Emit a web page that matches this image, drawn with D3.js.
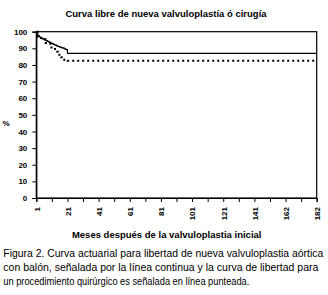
<!DOCTYPE html>
<html lang="es">
<head>
    <meta charset="UTF-8">
    <title></title>
    <style type="text/css">
        html, body { padding:0; margin:0; background:#fff; }
        text { font-family: "Liberation Sans", Arial, sans-serif; }
    </style>
</head>
<body>
<script src="https://d3js.org/d3.v7.min.js"></script>
<script type="text/javascript">
    // categoria (mes) -> indice; etiquetas cada 20 categorias
    var tickLabels = ['1', '21', '41', '61', '81', '101', '121', '141', '162', '182'];
    var yTicks = [0, 10, 20, 30, 40, 50, 60, 70, 80, 90, 100];

    // curva actuarial, valvuloplastia (linea continua)
    var balonIdx = [0, 1, 2, 3, 4, 5, 6, 7, 8, 9, 10, 11, 12, 13, 14, 15, 16, 17, 18, 19, 20, 180];
    var balonVal = [100, 97.5, 96.8, 96.2, 95.7, 95.2, 94.7, 94.2, 93.7, 93.2, 92.8, 92.3, 91.9, 91.5, 91.1, 90.7, 90.4, 90.1, 89.7, 89.2, 87, 87];

    // curva de procedimiento quirurgico (linea punteada)
    var cirugiaIdx = [0, 1, 3, 6, 9, 12, 14, 16, 18, 20, 180];
    var cirugiaVal = [100, 97, 95.5, 93.2, 90.5, 88, 86.2, 84.6, 83, 82.5, 82.5];

    var width = 328,
        height = 295,
        plotLeft = 36.3, plotRight = 316.7,
        plotTop = 31.7, plotBottom = 198;

    var svg = d3.select('body').append('svg')
        .attr('width', width)
        .attr('height', height);

    var xScale = d3.scaleLinear().domain([0, 180]).range([plotLeft, plotRight]);
    var yScale = d3.scaleLinear().domain([0, 100]).range([plotBottom, plotTop]);

    // titulo
    svg.append('text')
        .attr('x', 166).attr('y', 17)
        .attr('text-anchor', 'middle')
        .attr('font-size', '9.5px').attr('font-weight', 'bold')
        .text('Curva libre de nueva valvuloplastía ó cirugía');

    // marco
    svg.append('rect')
        .attr('x', plotLeft).attr('y', plotTop)
        .attr('width', plotRight - plotLeft).attr('height', plotBottom - plotTop)
        .attr('fill', 'none').attr('stroke', '#000').attr('stroke-width', 1.2);

    var yAxis = d3.axisLeft(yScale).tickValues(yTicks).tickSize(4).tickPadding(5);
    var gy = svg.append('g')
        .attr('transform', 'translate(' + plotLeft + ',0)')
        .call(yAxis);

    var xAxis = d3.axisBottom(xScale)
        .tickValues(d3.range(0, 181, 10))
        .tickSize(4)
        .tickFormat(function(d) { return d % 20 === 0 ? tickLabels[d / 20] : ''; });
    var gx = svg.append('g')
        .attr('transform', 'translate(0,' + plotBottom + ')')
        .call(xAxis);
    gx.selectAll('.tick text')
        .attr('transform', 'rotate(-90)')
        .attr('text-anchor', 'end')
        .attr('x', -9).attr('y', 0).attr('dy', '0.35em');

    [gx, gy].forEach(function(g) {
        g.selectAll('.domain').attr('stroke', '#000').attr('stroke-width', 1.2);
        g.selectAll('.tick line').attr('stroke', '#000');
        g.selectAll('.tick text')
            .attr('fill', '#000')
            .attr('font-size', '8px').attr('font-weight', 'bold')
            .attr('font-family', '"Liberation Sans", Arial, sans-serif');
    });

    svg.append('text')
        .attr('x', 6).attr('y', 126)
        .attr('text-anchor', 'middle')
        .attr('font-size', '8px').attr('font-weight', 'bold')
        .text('%');

    var line = d3.line()
        .x(function(d) { return xScale(d[0]); })
        .y(function(d) { return yScale(d[1]); })
        .curve(d3.curveStepAfter);

    svg.append('path')
        .attr('d', line(cirugiaIdx.map(function(d, i) { return [d, cirugiaVal[i]]; })))
        .attr('fill', 'none').attr('stroke', '#000')
        .attr('stroke-width', 2).attr('stroke-dasharray', '2,3');

    svg.append('path')
        .attr('d', line(balonIdx.map(function(d, i) { return [d, balonVal[i]]; })))
        .attr('fill', 'none').attr('stroke', '#000')
        .attr('stroke-width', 1.2);

    svg.append('text')
        .attr('x', 166.7).attr('y', 237.5)
        .attr('text-anchor', 'middle')
        .attr('font-size', '9.5px').attr('font-weight', 'bold')
        .text('Meses después de la valvuloplastia inicial');

    // pie de figura
    var caption = [
        ['Figura 2. Curva actuarial para libertad de nueva valvuloplastia aórtica', 320],
        ['con balón, señalada por la línea continua y la curva de libertad para', 315],
        ['un procedimiento quirúrgico es señalada en línea punteada.', 246]
    ];
    svg.selectAll('text.caption')
        .data(caption)
        .enter()
        .append('text')
        .attr('class', 'caption')
        .attr('x', 3.3)
        .attr('y', function(d, i) { return 256.5 + i * 14.3; })
        .attr('font-size', '10px')
        .attr('textLength', function(d) { return d[1]; })
        .attr('lengthAdjust', 'spacingAndGlyphs')
        .text(function(d) { return d[0]; });
</script>
</body>
</html>
